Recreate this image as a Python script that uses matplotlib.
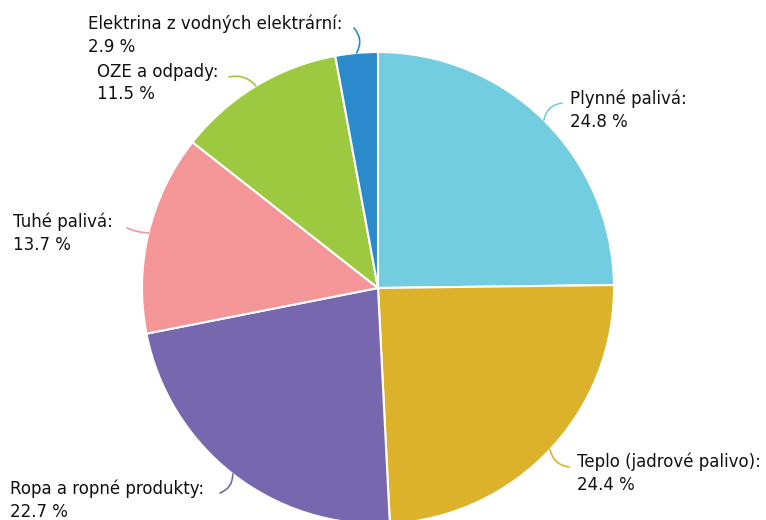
import matplotlib
matplotlib.use("Agg")
import matplotlib.pyplot as plt
import numpy as np

# Data
categories = ["Plynné palivá", "Teplo (jadrové palivo)", "Ropa a ropné produkty",
              "Tuhé palivá", "OZE a odpady", "Elektrina z vodných elektrární"]
values = [24.8, 24.4, 22.7, 13.7, 11.5, 2.9]
colors = ["#72CDE1", "#DCB22A", "#7767AE", "#F49597", "#9CC93F", "#2A8ACB"]

# Layout (pixel coordinates, origin top-left)
W, H = 766, 520
center_px = (378, 288)
radius_px = 236
label_text_px = [(570, 110, 'left'), (577, 473, 'left'), (10, 500, 'left'),
                 (13, 233, 'left'), (97, 83, 'left'), (88, 35, 'left')]
conn_start_px = [(562, 103), (569, 467), (220, 493), (127, 228), (229, 77), (354, 28)]
conn_rad = [0.35, -0.35, 0.35, 0.1, -0.3, -0.35]

fig = plt.figure(figsize=(W / 100, H / 100), dpi=100)
ax = fig.add_axes([0, 0, 1, 1])
cx, cy = center_px[0], H - center_px[1]
wedges, _ = ax.pie(values, colors=colors, startangle=90, counterclock=False,
                   radius=radius_px, center=(cx, cy),
                   wedgeprops=dict(edgecolor="white", linewidth=1.5))
ax.set_xlim(0, W)
ax.set_ylim(0, H)
ax.set_aspect("equal")
ax.axis("off")

for w, cat, val, col, (tx, ty, ha), (sx, sy), rad in zip(
        wedges, categories, values, colors, label_text_px, conn_start_px, conn_rad):
    mid = np.deg2rad((w.theta1 + w.theta2) / 2)
    ex = cx + radius_px * np.cos(mid)
    ey = cy + radius_px * np.sin(mid)
    ax.annotate("", xy=(ex, ey), xytext=(sx, H - sy),
                arrowprops=dict(arrowstyle="-", color=col, lw=1.2,
                                connectionstyle=f"arc3,rad={rad}",
                                shrinkA=0, shrinkB=0))
    ax.text(tx, H - ty, f"{cat}:\n{val:.1f} %", ha=ha, va="center",
            fontsize=12, color="#111111", linespacing=1.35,
            family="DejaVu Sans")

fig.savefig("out.png", dpi=100)
